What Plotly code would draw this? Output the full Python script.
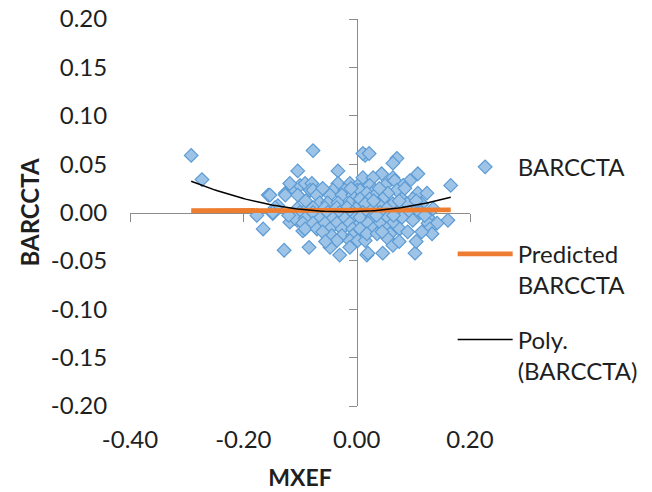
import numpy as np
import plotly.graph_objects as go

# ---- data ----
MXEF = [
    -0.292, -0.273, -0.176, -0.165, -0.156, -0.148, -0.139, -0.126, -0.114, -0.105,
    -0.095, -0.118, -0.105, -0.100,
    # core (left half)
    -0.077, 0.015, -0.104, -0.033,
    -0.118, -0.091, -0.079, -0.033, -0.012, 0.006,
    -0.082, -0.077, -0.042, -0.021, 0.001, 0.018,
    -0.153, -0.126, -0.104, -0.070, -0.047, -0.026, -0.007, 0.011,
    -0.065, -0.051, -0.033, -0.012, 0.006,
    -0.144, -0.086, -0.077, -0.056, -0.035, -0.017, 0.001, 0.018,
    -0.148, -0.100, -0.077, -0.051, -0.030, -0.007, 0.015,
    -0.109, -0.091, -0.065, -0.042, -0.021, -0.003, 0.015,
    -0.095, -0.077, -0.056, -0.035, -0.012, 0.006,
    -0.091, -0.070, -0.047, -0.026, -0.007, 0.018,
    -0.044, -0.026, -0.007,
    -0.035, -0.012, 0.002, 0.015,
    -0.084, -0.047, -0.012,
    -0.128,
    -0.030, 0.018,
    # core (right half)
    0.011, 0.022,
    0.071,
    0.064,
    0.044, 0.108,
    0.011, 0.029, 0.064,
    0.067, 0.094,
    0.023, 0.050, 0.082, 0.166,
    0.006, 0.032, 0.071,
    0.018, 0.036, 0.055, 0.108, 0.124,
    0.006, 0.023, 0.046, 0.080, 0.099,
    0.015, 0.038, 0.064, 0.089, 0.115,
    0.029, 0.053, 0.108, 0.135,
    0.011, 0.041, 0.071, 0.094, 0.112,
    0.006, 0.027, 0.055, 0.080, 0.126,
    0.099, 0.161,
    0.020, 0.041, 0.064, 0.126, 0.142,
    0.006, 0.029, 0.053, 0.076, 0.129,
    0.018, 0.036, 0.059, 0.133,
    0.055,
    0.064,
    0.020, 0.046, 0.103,
    # extra core points filling gaps
    -0.060, -0.010, 0.040, 0.085,
    -0.090, 0.030, 0.075, 0.105,
    -0.120, 0.035, 0.065, 0.120,
    -0.060, 0.045, 0.090, 0.115,
    -0.055, 0.075, 0.105,
]
BARCCTA = [
    0.059, 0.034, -0.003, -0.017, 0.018, -0.001, 0.007, 0.020, 0.026, -0.008,
    -0.019, -0.010, 0.004, 0.028,
    0.064, 0.059, 0.043, 0.043,
    0.030, 0.030, 0.030, 0.030, 0.030, 0.030,
    0.023, 0.023, 0.023, 0.023, 0.023, 0.023,
    0.018, 0.018, 0.018, 0.018, 0.018, 0.018, 0.018, 0.018,
    0.010, 0.010, 0.010, 0.010, 0.010,
    0.005, 0.005, 0.005, 0.005, 0.005, 0.005, 0.005, 0.005,
    0.000, 0.000, 0.000, 0.000, 0.000, 0.000, 0.000,
    -0.006, -0.006, -0.006, -0.006, -0.006, -0.006, -0.006,
    -0.011, -0.011, -0.011, -0.011, -0.011, -0.011,
    -0.017, -0.017, -0.017, -0.017, -0.017, -0.017,
    -0.024, -0.024, -0.024,
    -0.029, -0.029, -0.029, -0.029,
    -0.036, -0.036, -0.036,
    -0.039,
    -0.044, -0.044,
    0.061, 0.061,
    0.056,
    0.051,
    0.040, 0.040,
    0.036, 0.036, 0.036,
    0.033, 0.033,
    0.028, 0.028, 0.028, 0.028,
    0.023, 0.023, 0.023,
    0.020, 0.020, 0.020, 0.020, 0.020,
    0.014, 0.014, 0.014, 0.014, 0.014,
    0.009, 0.009, 0.009, 0.009, 0.009,
    0.004, 0.004, 0.004, 0.004,
    0.000, 0.000, 0.000, 0.000, 0.000,
    -0.005, -0.005, -0.005, -0.005, -0.005,
    -0.008, -0.008,
    -0.011, -0.011, -0.011, -0.011, -0.011,
    -0.017, -0.017, -0.017, -0.017, -0.017,
    -0.022, -0.022, -0.022, -0.022,
    -0.027,
    -0.034,
    -0.042, -0.042, -0.042,
    0.025, 0.025, 0.025, 0.025,
    0.012, 0.012, 0.012, 0.012,
    -0.003, -0.003, -0.003, -0.003,
    -0.020, -0.020, -0.020, -0.020,
    -0.030, -0.030, -0.030,
]

PRED_X = [-0.292, 0.166]
PRED_Y = [0.0018, 0.0028]

POLY_COEFFS = [0.431, 0.0184, 0.0009]  # order-2 trendline

X_TICKS = [-0.40, -0.20, 0.00, 0.20]
X_TICK_TEXT = ["-0.40", "-0.20", "0.00", "0.20"]
Y_TICKS = [-0.20, -0.15, -0.10, -0.05, 0.00, 0.05, 0.10, 0.15, 0.20]
Y_TICK_TEXT = ["-0.20", "-0.15", "-0.10", "-0.05", "0.00", "0.05", "0.10", "0.15", "0.20"]

# ---- styles ----
FONT = "Lato, 'Open Sans', sans-serif"
TXT = "#1f1f1f"
AX = "#8c8c8c"
X_RANGE = [-0.4, 0.2]
Y_RANGE = [-0.2, 0.2]

poly_x = np.linspace(min(MXEF), max(MXEF), 120)
poly_y = np.polyval(POLY_COEFFS, poly_x)

fig = go.Figure()
fig.add_trace(go.Scatter(
    x=MXEF, y=BARCCTA, mode="markers", name="BARCCTA",
    marker=dict(symbol="diamond", size=10.5, color="#9dc3e6",
                line=dict(color="#5b9bd5", width=1.2)),
    legend="legend",
))
fig.add_trace(go.Scatter(
    x=PRED_X, y=PRED_Y, mode="lines", name="Predicted<br>BARCCTA",
    line=dict(color="#ed7d31", width=4.8),
    legend="legend2",
))
fig.add_trace(go.Scatter(
    x=poly_x, y=poly_y, mode="lines", name="Poly.<br>(BARCCTA)",
    line=dict(color="#000000", width=1.5),
    legend="legend3",
))
# dummy trace to carry the crossing axes
fig.add_trace(go.Scatter(x=[0], y=[0], xaxis="x2", yaxis="y2", mode="markers",
                         marker=dict(opacity=0), showlegend=False, hoverinfo="skip"))

leg_common = dict(font=dict(family=FONT, size=24, color=TXT), bgcolor="rgba(0,0,0,0)",
                  xanchor="left", valign="top", itemwidth=55)

fig.update_layout(
    template="none",
    width=652, height=492,
    margin=dict(l=130, r=182, t=18.5, b=86, autoexpand=False),
    paper_bgcolor="white", plot_bgcolor="white",
    font=dict(family=FONT, color=TXT),
    xaxis=dict(range=X_RANGE, showgrid=False, zeroline=False, showline=False, automargin=False,
               tickvals=X_TICKS, ticktext=X_TICK_TEXT, ticks="outside", ticklen=12,
               tickcolor="rgba(0,0,0,0)", tickfont=dict(size=24, family=FONT, color=TXT),
               title=dict(text="<b>MXEF</b>", font=dict(size=23, family=FONT, color=TXT), standoff=18)),
    yaxis=dict(range=Y_RANGE, showgrid=False, zeroline=False, showline=False, automargin=False,
               tickvals=Y_TICKS, ticktext=Y_TICK_TEXT, ticks="outside", ticklen=17,
               tickcolor="rgba(0,0,0,0)", tickfont=dict(size=24, family=FONT, color=TXT),
               title=dict(text="<b>BARCCTA</b>", font=dict(size=24, family=FONT, color=TXT), standoff=4)),
    xaxis2=dict(range=X_RANGE, overlaying="x", anchor="free", position=0.5, side="bottom",
                showgrid=False, zeroline=False, showline=True, linecolor=AX, linewidth=1.3,
                tickvals=X_TICKS, ticks="outside", ticklen=8, tickcolor=AX, tickwidth=1.3,
                showticklabels=False, layer="below traces", automargin=False),
    yaxis2=dict(range=Y_RANGE, overlaying="y", anchor="free", position=0.4 / 0.6, side="left",
                showgrid=False, zeroline=False, showline=True, linecolor=AX, linewidth=1.3,
                tickvals=Y_TICKS, ticks="outside", ticklen=8, tickcolor=AX, tickwidth=1.3,
                showticklabels=False, layer="below traces", automargin=False),
    legend=dict(x=0.949, y=0.617, yanchor="middle", **leg_common),
    legend2=dict(x=0.949, y=0.352, yanchor="middle", **leg_common),
    legend3=dict(x=0.949, y=0.131, yanchor="middle", **leg_common),
)

# remove the browser's default 8px page margin so the 652x492 figure fills the window
fig.write_html("out.html", config={"displayModeBar": False},
               post_script="document.body.style.margin='0px';")
